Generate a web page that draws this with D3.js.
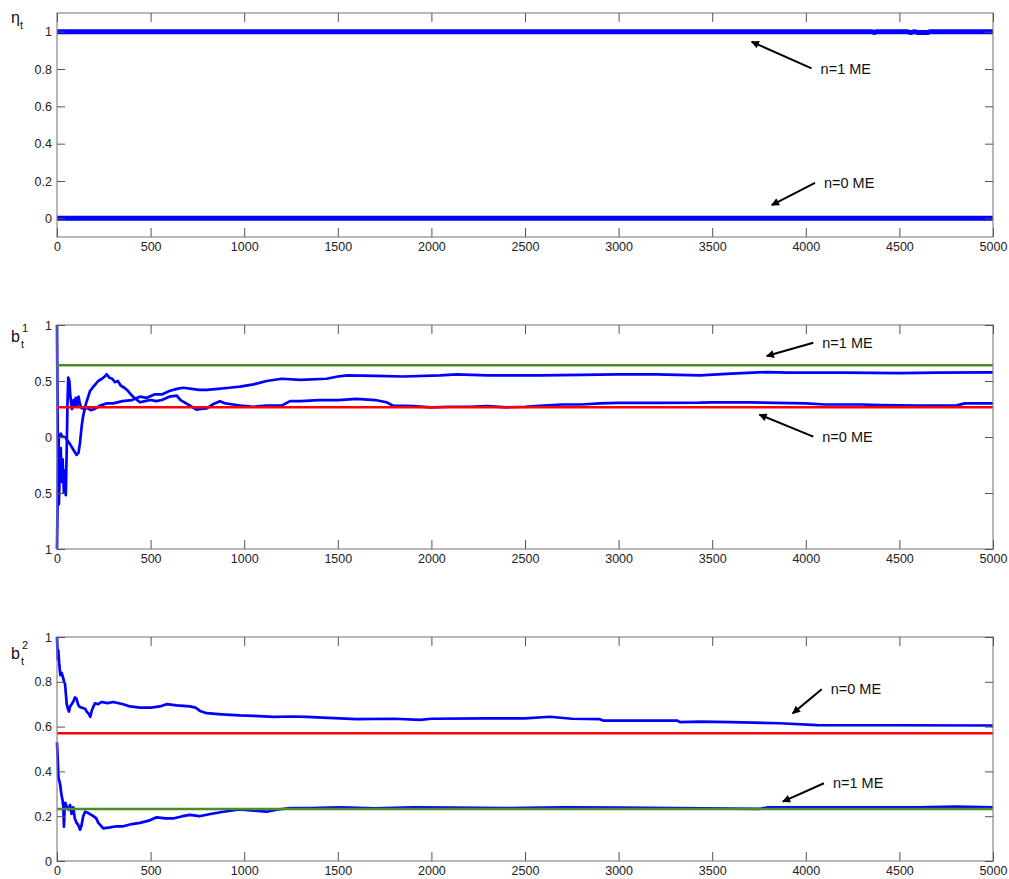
<!DOCTYPE html>
<html><head><meta charset="utf-8">
<script src="https://cdn.jsdelivr.net/npm/d3@7"></script>
<style>
body{margin:0;background:#fff}
svg{display:block}
text{font-family:"Liberation Sans",Arial,sans-serif}
</style>
</head><body>
<svg id="c" width="1009" height="879"></svg>
<script>
// ---------------- data ----------------
const xTicks = [0,500,1000,1500,2000,2500,3000,3500,4000,4500,5000];
const xTickLabels = ["0","500","1000","1500","2000","2500","3000","3500","4000","4500","5000"];

// panel 1 : eta_t
const etaTicks = [0,0.2,0.4,0.6,0.8,1];
const etaTickLabels = ["0","0.2","0.4","0.6","0.8","1"];
const eta1 = [[0,1],[4355,1],[4365,0.995],[4380,1],[4540,1],[4560,0.995],[4580,1],[4600,0.995],[4620,0.996],[4650,0.995],[4665,1],[5000,1]];
const eta0 = [[0,0],[5000,0]];

// panel 2 : b_t^1
const b1Ticks = [-1,-0.5,0,0.5,1];
const b1TickLabels = ["1","0.5","0","0.5","1"];
const b1RefGreen = 0.64;
const b1RefRed = 0.265;
const b1SeriesA = [[0,-1],[5,-0.3],[10,0.0],[20,0.03],[30,0.0],[43,0.0],[55,-0.03],[72,-0.07],[90,-0.12],[105,-0.16],[115,-0.14],[123,-0.05],[132,0.1],[140,0.19],[155,0.3],[165,0.35],[176,0.41],[190,0.44],[205,0.47],[220,0.5],[240,0.52],[255,0.54],[265,0.56],[280,0.53],[295,0.52],[310,0.49],[325,0.5],[340,0.46],[360,0.44],[380,0.41],[400,0.37],[420,0.34],[443,0.31],[470,0.32],[500,0.33],[530,0.32],[560,0.33],[600,0.36],[640,0.37],[660,0.33],[690,0.3],[720,0.27],[745,0.245],[770,0.25],[800,0.255],[830,0.29],[870,0.32],[900,0.3],[940,0.29],[980,0.28],[1050,0.27],[1120,0.28],[1200,0.28],[1245,0.32],[1300,0.32],[1400,0.33],[1500,0.33],[1600,0.34],[1700,0.33],[1760,0.31],[1795,0.28],[1900,0.275],[2000,0.265],[2100,0.27],[2200,0.27],[2300,0.275],[2400,0.265],[2500,0.27],[2600,0.28],[2700,0.29],[2800,0.29],[2900,0.3],[3000,0.305],[3200,0.305],[3435,0.307],[3500,0.31],[3700,0.31],[4000,0.3],[4100,0.29],[4300,0.29],[4400,0.285],[4600,0.28],[4800,0.28],[4850,0.3],[5000,0.3]];
const b1SeriesB = [[0,1],[3,0.2],[6,-0.4],[10,-0.6],[15,-0.3],[20,-0.1],[25,-0.4],[30,-0.2],[37,-0.5],[42,-0.3],[47,-0.52],[52,-0.1],[56,0.3],[60,0.53],[66,0.5],[72,0.35],[80,0.25],[88,0.33],[95,0.28],[100,0.35],[108,0.28],[115,0.36],[122,0.3],[130,0.26],[145,0.25],[160,0.26],[180,0.24],[200,0.25],[230,0.28],[264,0.3],[300,0.3],[350,0.32],[400,0.33],[443,0.36],[480,0.35],[520,0.38],[560,0.38],[600,0.41],[640,0.43],[673,0.44],[720,0.43],[760,0.42],[800,0.42],[860,0.43],[920,0.44],[977,0.45],[1050,0.47],[1120,0.5],[1200,0.52],[1300,0.51],[1440,0.52],[1500,0.54],[1550,0.55],[1700,0.545],[1850,0.54],[2046,0.55],[2135,0.56],[2300,0.55],[2580,0.55],[2800,0.555],[3000,0.56],[3200,0.56],[3435,0.55],[3600,0.565],[3793,0.58],[3900,0.575],[4200,0.575],[4500,0.57],[4700,0.575],[5000,0.577]];

// panel 3 : b_t^2
const b2Ticks = [0,0.2,0.4,0.6,0.8,1];
const b2TickLabels = ["0","0.2","0.4","0.6","0.8","1"];
const b2RefRed = 0.57;
const b2RefGreen = 0.232;
const b2SeriesA = [[0,1],[4,0.9],[7,0.94],[12,0.88],[18,0.83],[25,0.84],[32,0.82],[38,0.8],[43,0.79],[48,0.74],[52,0.7],[58,0.68],[64,0.667],[70,0.69],[78,0.7],[86,0.71],[96,0.73],[104,0.725],[112,0.7],[118,0.69],[130,0.685],[150,0.68],[160,0.665],[167,0.66],[178,0.644],[187,0.675],[195,0.69],[203,0.704],[220,0.7],[239,0.71],[270,0.705],[300,0.71],[354,0.7],[390,0.69],[443,0.685],[500,0.685],[550,0.69],[585,0.7],[640,0.695],[710,0.69],[740,0.685],[764,0.67],[800,0.66],[880,0.655],[977,0.65],[1050,0.648],[1157,0.643],[1250,0.645],[1335,0.643],[1420,0.64],[1512,0.637],[1600,0.633],[1800,0.635],[1940,0.63],[2000,0.635],[2297,0.637],[2500,0.637],[2633,0.644],[2750,0.635],[2900,0.633],[2917,0.627],[3312,0.627],[3328,0.62],[3435,0.622],[3600,0.62],[3862,0.615],[4060,0.607],[4500,0.606],[5000,0.605]];
const b2SeriesB = [[0,0.53],[4,0.45],[8,0.37],[16,0.347],[23,0.3],[30,0.27],[34,0.24],[37,0.153],[40,0.22],[45,0.26],[52,0.24],[61,0.23],[70,0.25],[78,0.21],[87,0.24],[95,0.19],[105,0.17],[114,0.16],[123,0.14],[130,0.155],[140,0.2],[150,0.22],[165,0.215],[194,0.2],[210,0.19],[221,0.17],[247,0.146],[283,0.15],[320,0.155],[354,0.155],[400,0.165],[443,0.17],[490,0.18],[532,0.195],[580,0.19],[621,0.19],[670,0.2],[710,0.206],[760,0.2],[820,0.21],[888,0.22],[977,0.23],[1050,0.225],[1120,0.22],[1180,0.23],[1245,0.236],[1350,0.236],[1512,0.24],[1700,0.235],[1900,0.24],[2100,0.238],[2400,0.236],[2700,0.24],[3000,0.238],[3300,0.236],[3755,0.233],[3800,0.24],[4200,0.24],[4600,0.239],[4800,0.243],[5000,0.24]];

// annotations: [tailT, tailV, tipT, tipV, text]
const ann1 = [[4031,0.803,3711,0.946,"n=1 ME"],[4049,0.19,3818,0.071,"n=0 ME"]];
const ann2 = [[4040,0.842,3791,0.723,"n=1 ME"],[4040,0.003,3752,0.20,"n=0 ME"]];
const ann3 = [[4085,0.767,3930,0.659,"n=0 ME"],[4097,0.347,3877,0.265,"n=1 ME"]];

// ---------------- drawing ----------------
const svg = d3.select("#c");
const L = 57, R = 993, PH = 224;
const BLUE = "#0000ff", RED = "#ff0000", GREEN = "#4e8c2a";

const defs = svg.append("defs");
defs.append("marker").attr("id","ah").attr("viewBox","0 0 10 10")
  .attr("refX",9).attr("refY",5).attr("markerWidth",11).attr("markerHeight",8)
  .attr("markerUnits","userSpaceOnUse").attr("orient","auto")
  .append("path").attr("d","M0,0 L10,5 L0,10 z").attr("fill","#000");

function panel(cfg, idx){
  const g = svg.append("g").attr("transform",`translate(0,${cfg.top})`);
  const x = d3.scaleLinear().domain([0,5000]).range([L,R]);
  const y = d3.scaleLinear().domain(cfg.domain).range([PH,0]);
  defs.append("clipPath").attr("id","cp"+idx).append("rect")
    .attr("x",L-2).attr("y",-1).attr("width",R-L+4).attr("height",PH+2);
  const plot = g.append("g").attr("clip-path",`url(#cp${idx})`);
  const line = d3.line().x(d=>x(d[0])).y(d=>y(d[1]));
  cfg.series.forEach(s=>{
    plot.append("path").datum(s).attr("d",line).attr("fill","none")
      .attr("stroke",BLUE).attr("stroke-width",cfg.bw).attr("stroke-linejoin","round");
  });
  cfg.refs.forEach(r=>{
    plot.append("path").datum([[0,r[0]],[5000,r[0]]]).attr("d",line)
      .attr("fill","none").attr("stroke",r[1]).attr("stroke-width",2.5);
  });
  // frame
  g.append("rect").attr("x",L).attr("y",0).attr("width",R-L).attr("height",PH)
    .attr("fill","none").attr("stroke","#888").attr("stroke-width",1.2);
  const style = sel=>{
    sel.select(".domain").remove();
    sel.selectAll(".tick line").attr("stroke","#555").attr("stroke-width",1);
    sel.selectAll("text").attr("fill","#222").style("font-size","12.5px")
      .style("font-family","'Liberation Sans',Arial,sans-serif");
  };
  g.append("g").attr("transform",`translate(0,${PH})`)
    .call(d3.axisBottom(x).tickValues(xTicks).tickFormat((d,i)=>xTickLabels[i]).tickSizeInner(-9).tickSizeOuter(0).tickPadding(5))
    .call(style);
  g.append("g")
    .call(d3.axisTop(x).tickValues(xTicks).tickFormat("").tickSizeInner(-9).tickSizeOuter(0))
    .call(style);
  g.append("g").attr("transform",`translate(${L},0)`)
    .call(d3.axisLeft(y).tickValues(cfg.ticks).tickFormat((d,i)=>cfg.labels[i]).tickSizeInner(-8).tickSizeOuter(0).tickPadding(5))
    .call(style);
  g.append("g").attr("transform",`translate(${R},0)`)
    .call(d3.axisRight(y).tickValues(cfg.ticks).tickFormat("").tickSizeInner(-8).tickSizeOuter(0))
    .call(style);
  // annotations
  cfg.ann.forEach(a=>{
    g.append("line").attr("x1",x(a[0])).attr("y1",y(a[1])).attr("x2",x(a[2])).attr("y2",y(a[3]))
      .attr("stroke","#000").attr("stroke-width",2).attr("marker-end","url(#ah)");
    g.append("text").attr("x",x(a[0])+9).attr("y",y(a[1])).attr("dy","0.36em")
      .attr("fill","#111").style("font-size","14.5px").text(a[4]);
  });
  // y label
  const lab = g.append("text").attr("fill","#111");
  lab.append("tspan").attr("x",11).attr("y",cfg.labY).style("font-size","16px").text(cfg.sym);
  if(cfg.sup) lab.append("tspan").attr("x",22).attr("y",cfg.labY-10).style("font-size","11px").text(cfg.sup);
  lab.append("tspan").attr("x",cfg.sup?21:20).attr("y",cfg.labY+6).style("font-size","11px").text("t");
}

panel({top:13, domain:[-0.1,1.1], ticks:etaTicks, labels:etaTickLabels, series:[eta1,eta0], bw:5,
       refs:[], ann:ann1, sym:"η", sup:null, labY:10}, 1);
panel({top:325, domain:[-1,1], ticks:b1Ticks, labels:b1TickLabels, series:[b1SeriesA,b1SeriesB], bw:2.7,
       refs:[[b1RefGreen,GREEN],[b1RefRed,RED]], ann:ann2, sym:"b", sup:"1", labY:17}, 2);
panel({top:637, domain:[0,1], ticks:b2Ticks, labels:b2TickLabels, series:[b2SeriesA,b2SeriesB], bw:2.7,
       refs:[[b2RefRed,RED],[b2RefGreen,GREEN]], ann:ann3, sym:"b", sup:"2", labY:22}, 3);
</script>
</body></html>
